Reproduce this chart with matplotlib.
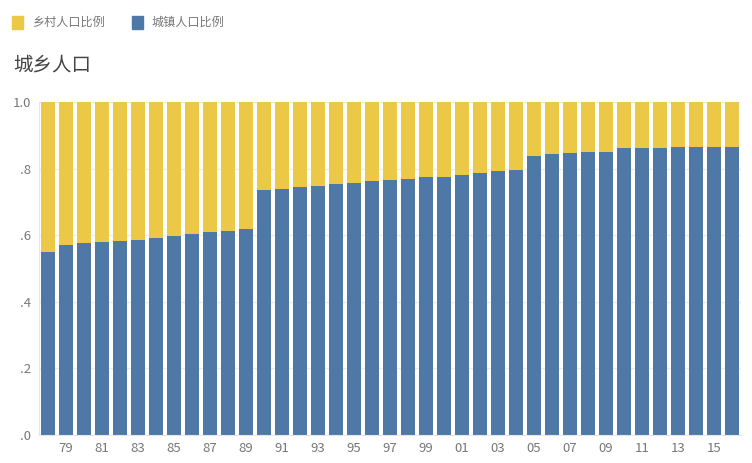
import numpy as np
import matplotlib.pyplot as plt

plt.rcParams['font.family'] = ['Noto Sans CJK SC', 'DejaVu Sans']

# Data
years = list(range(1978, 2017))
urban = [0.550, 0.571, 0.577, 0.580, 0.583, 0.586, 0.592, 0.598, 0.604, 0.610,
         0.613, 0.619, 0.736, 0.739, 0.745, 0.748, 0.754, 0.757, 0.763, 0.766,
         0.769, 0.775, 0.775, 0.781, 0.787, 0.793, 0.796, 0.838, 0.844, 0.847,
         0.850, 0.850, 0.862, 0.862, 0.862, 0.865, 0.865, 0.865, 0.865]
rural = [1 - u for u in urban]
yticks = [0, 0.2, 0.4, 0.6, 0.8, 1.0]
ytick_labels = ['.0', '.2', '.4', '.6', '.8', '1.0']

blue = '#4E79A7'
yellow = '#EBC947'
grey = '#777777'

fig = plt.figure(figsize=(7.52, 4.63), dpi=100)
ax = fig.add_axes([39 / 752, 28 / 463, 702 / 752, 333 / 463])

x = np.arange(len(years))
ax.bar(x, urban, width=0.78, color=blue, zorder=2)
ax.bar(x, rural, width=0.78, bottom=urban, color=yellow, zorder=2)

ax.set_xlim(-0.5, len(years) - 0.5)
ax.set_ylim(0, 1.0)
ax.set_yticks(yticks)
ax.set_yticklabels(ytick_labels)
xt = [i for i, y in enumerate(years) if y % 2 == 1]
ax.set_xticks(xt)
ax.set_xticklabels(['%02d' % (years[i] % 100) for i in xt])
ax.tick_params(axis='both', length=0, colors=grey, labelsize=9.5)
ax.tick_params(axis='y', pad=6)
ax.tick_params(axis='x', pad=5)
ax.grid(axis='y', color='#eeeeee', linewidth=1, zorder=0)

for s in ['top', 'right']:
    ax.spines[s].set_visible(False)
ax.spines['left'].set_color('#e6e6e6')
ax.spines['bottom'].set_color('#e6e6e6')

# title and legend
fig.text(13 / 752, 1 - 65 / 463, '城乡人口', fontsize=14, color='#444444',
         va='center', fontweight='light')
fig.patches.append(plt.Rectangle((12 / 752, 1 - 29 / 463), 11 / 752, 13 / 463,
                                 transform=fig.transFigure, color=yellow))
fig.text(32 / 752, 1 - 22 / 463, '乡村人口比例', fontsize=8.7, color=grey, va='center')
fig.patches.append(plt.Rectangle((132 / 752, 1 - 29 / 463), 11 / 752, 13 / 463,
                                 transform=fig.transFigure, color=blue))
fig.text(152 / 752, 1 - 22 / 463, '城镇人口比例', fontsize=8.7, color=grey, va='center')

fig.savefig('out.png', dpi=100)
